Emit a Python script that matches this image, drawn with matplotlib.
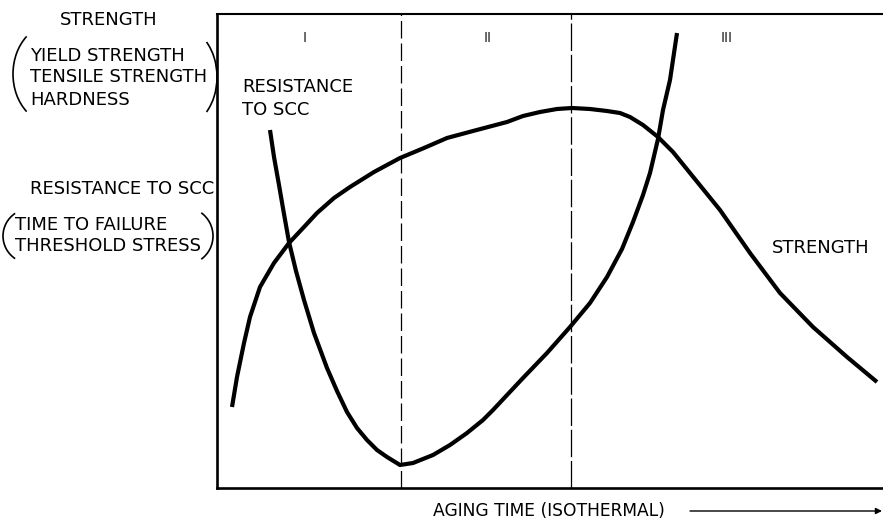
import matplotlib.pyplot as plt
from matplotlib.patches import Arc

# aging time (arbitrary units) vs property level
strength_t = [15, 20, 27, 33, 43, 57, 72, 87, 100, 117, 133, 157, 183, 207, 230, 256, 290, 306, 323,
              340, 355, 373, 390, 403, 413, 426, 441, 456, 473, 503, 533, 563, 596, 630, 660]
strength_v = [81, 111, 145, 171, 201, 225, 245, 261, 275, 290, 301, 316, 330, 340, 350, 357, 366, 372, 376,
              379, 380, 379, 377, 375, 371, 363, 351, 336, 315, 278, 235, 195, 161, 131, 106]

scc_t = [53, 57, 62, 67, 72, 79, 87, 97, 110, 120, 130, 140, 150, 160, 170, 183, 196, 216, 233, 250,
         266, 276, 306, 330, 353, 373, 390, 405, 416, 426, 433, 441, 446, 453, 460]
scc_v = [358, 331, 303, 274, 246, 217, 188, 155, 120, 97, 76, 60, 48, 38, 31, 23, 25, 33, 43, 55,
         68, 78, 110, 135, 161, 185, 211, 239, 266, 293, 315, 349, 378, 408, 455]

region_bounds = [184, 354]
region_labels = ['I', 'II', 'III']
region_label_t = [88, 271, 510]

FS = 13

fig = plt.figure(figsize=(8.83, 5.22), dpi=100)

# overlay in pixel coords for the labels outside the plot
ov = fig.add_axes([0, 0, 1, 1])
ov.set_xlim(0, 883)
ov.set_ylim(522, 0)
ov.axis('off')

ax = fig.add_axes([217 / 883, 34 / 522, 666 / 883, 474 / 522])
ax.set_facecolor('none')
ax.set_xlim(0, 666)
ax.set_ylim(0, 474)
ax.set_xticks([])
ax.set_yticks([])
ax.spines['right'].set_visible(False)
for s in ['left', 'bottom']:
    ax.spines[s].set_linewidth(1.9)
ax.spines['top'].set_linewidth(1.5)

ax.plot(strength_t, strength_v, color='black', lw=3, solid_joinstyle='round', solid_capstyle='butt')
ax.plot(scc_t, scc_v, color='black', lw=3, solid_joinstyle='round', solid_capstyle='butt')

ax.axvline(region_bounds[0], color='black', lw=0.9, dashes=(14, 4))
ax.axvline(region_bounds[1], color='black', lw=0.9, dashes=(22, 3))

for t, lab in zip(region_label_t, region_labels):
    ax.text(t, 450, lab, ha='center', va='center', fontsize=10, color='#222222')

ax.text(25, 401, 'RESISTANCE', ha='left', va='center', fontsize=FS)
ax.text(25, 378, 'TO SCC', ha='left', va='center', fontsize=FS)
ax.text(555, 240, 'STRENGTH', ha='left', va='center', fontsize=FS)

# y-axis description on the left
ov.text(109, 20, 'STRENGTH', ha='center', va='center', fontsize=FS)
ov.text(30, 56, 'YIELD STRENGTH', ha='left', va='center', fontsize=FS)
ov.text(30, 77, 'TENSILE STRENGTH', ha='left', va='center', fontsize=FS)
ov.text(30, 100, 'HARDNESS', ha='left', va='center', fontsize=FS)
ov.text(122, 189, 'RESISTANCE TO SCC', ha='center', va='center', fontsize=FS)
ov.text(15, 225, 'TIME TO FAILURE', ha='left', va='center', fontsize=FS)
ov.text(15, 246, 'THRESHOLD STRESS', ha='left', va='center', fontsize=FS)

ov.add_patch(Arc((53, 74), 80, 100, theta1=125, theta2=235, lw=1.2, color='black'))
ov.add_patch(Arc((182, 77), 70, 98, theta1=-55, theta2=55, lw=1.2, color='black'))
ov.add_patch(Arc((31, 236), 56, 55, theta1=125, theta2=235, lw=1.2, color='black'))
ov.add_patch(Arc((185, 236), 56, 57, theta1=-55, theta2=55, lw=1.2, color='black'))

ov.text(433, 511, 'AGING TIME (ISOTHERMAL)', ha='left', va='center', fontsize=FS * 0.95)
ov.annotate('', xy=(882, 511), xytext=(690, 511),
            arrowprops=dict(arrowstyle='-|>', lw=1.0, color='black', mutation_scale=9, shrinkA=0, shrinkB=0))

fig.savefig('out.png', dpi=100)
